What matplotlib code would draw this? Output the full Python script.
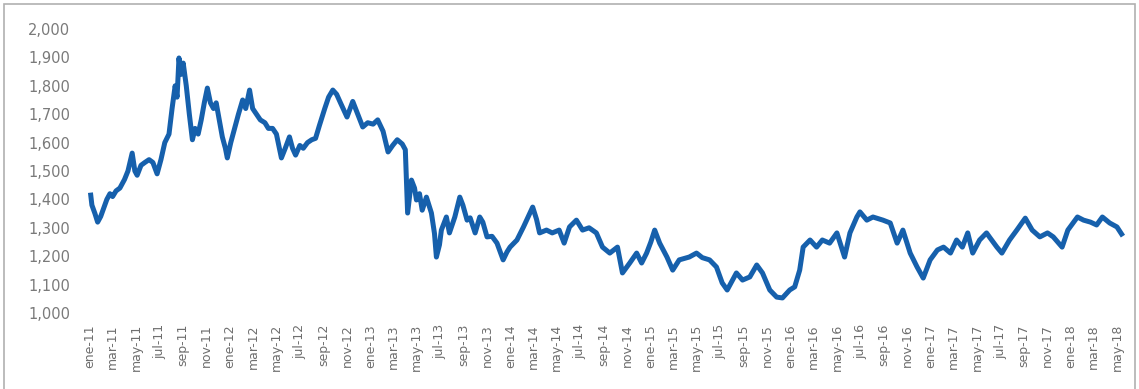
import matplotlib
matplotlib.use("Agg")
import matplotlib.pyplot as plt
import matplotlib.dates as mdates
import matplotlib.patches as patches
import matplotlib.ticker as mticker
import pandas as pd

# precio del oro (USD/oz), lecturas aproximadas
fechas = [
    "2011-01-03", "2011-01-06", "2011-01-14", "2011-01-21", "2011-01-29", "2011-02-06",
    "2011-02-14", "2011-02-22", "2011-03-01", "2011-03-10", "2011-03-20", "2011-04-01",
    "2011-04-10", "2011-04-21", "2011-04-28", "2011-05-04", "2011-05-14", "2011-05-24",
    "2011-06-04", "2011-06-14", "2011-06-25", "2011-07-05", "2011-07-15", "2011-07-26",
    "2011-08-03", "2011-08-11", "2011-08-16", "2011-08-21", "2011-08-26", "2011-09-01",
    "2011-09-09", "2011-09-17", "2011-09-25", "2011-10-02", "2011-10-10", "2011-10-18",
    "2011-10-26", "2011-11-03", "2011-11-11", "2011-11-19", "2011-11-26", "2011-12-04",
    "2011-12-12", "2011-12-20", "2011-12-25",
    "2012-01-03", "2012-01-13", "2012-01-23", "2012-02-03", "2012-02-11", "2012-02-21",
    "2012-02-29", "2012-03-10", "2012-03-20", "2012-04-01", "2012-04-10", "2012-04-21",
    "2012-05-01", "2012-05-14", "2012-05-24", "2012-06-04", "2012-06-12", "2012-06-20",
    "2012-07-01", "2012-07-10", "2012-07-21", "2012-08-01", "2012-08-11", "2012-08-21",
    "2012-09-04", "2012-09-14", "2012-09-25", "2012-10-05", "2012-10-15", "2012-11-01",
    "2012-11-16", "2012-11-29", "2012-12-12", "2012-12-25",
    "2013-01-08", "2013-01-20", "2013-02-03", "2013-02-16", "2013-02-28", "2013-03-12",
    "2013-03-25", "2013-04-02", "2013-04-08", "2013-04-13", "2013-04-18", "2013-04-26",
    "2013-05-01", "2013-05-09", "2013-05-16", "2013-05-27", "2013-06-09", "2013-06-17",
    "2013-06-22", "2013-06-30", "2013-07-05", "2013-07-18", "2013-07-26", "2013-08-09",
    "2013-08-22", "2013-08-30", "2013-09-10", "2013-09-18", "2013-10-01", "2013-10-13",
    "2013-10-21", "2013-11-01", "2013-11-14", "2013-11-27", "2013-12-13", "2013-12-23",
    "2013-12-31",
    "2014-01-18", "2014-02-04", "2014-02-16", "2014-02-28", "2014-03-10", "2014-03-18",
    "2014-04-05", "2014-04-20", "2014-05-08", "2014-05-21", "2014-06-04", "2014-06-22",
    "2014-07-08", "2014-07-25", "2014-08-13", "2014-08-29", "2014-09-17", "2014-10-07",
    "2014-10-20", "2014-11-08", "2014-11-26", "2014-12-09", "2014-12-22",
    "2015-01-02", "2015-01-12", "2015-01-25", "2015-02-13", "2015-02-28", "2015-03-17",
    "2015-04-12", "2015-05-01", "2015-05-16", "2015-06-04", "2015-06-22", "2015-07-07",
    "2015-07-20", "2015-08-13", "2015-08-29", "2015-09-17", "2015-10-05", "2015-10-20",
    "2015-11-08", "2015-11-26", "2015-12-11", "2015-12-30",
    "2016-01-12", "2016-01-25", "2016-02-03", "2016-02-21", "2016-03-09", "2016-03-24",
    "2016-04-12", "2016-05-01", "2016-05-21", "2016-06-04", "2016-06-22", "2016-06-30",
    "2016-07-18", "2016-08-03", "2016-08-29", "2016-09-17", "2016-10-05", "2016-10-20",
    "2016-11-08", "2016-11-26", "2016-12-12", "2016-12-30",
    "2017-01-18", "2017-02-03", "2017-02-21", "2017-03-09", "2017-03-24", "2017-04-07",
    "2017-04-20", "2017-05-08", "2017-05-26", "2017-06-04", "2017-06-22", "2017-07-05",
    "2017-07-25", "2017-08-13", "2017-09-04", "2017-09-22", "2017-10-12", "2017-11-01",
    "2017-11-16", "2017-12-09", "2017-12-24",
    "2018-01-18", "2018-02-03", "2018-02-21", "2018-03-09", "2018-03-24", "2018-04-12",
    "2018-05-01", "2018-05-13",
]
precio = [
    1415, 1380, 1350, 1320, 1340, 1370,
    1400, 1420, 1410, 1430, 1440, 1470,
    1500, 1563, 1500, 1485, 1520, 1530,
    1540, 1530, 1490, 1540, 1600, 1630,
    1720, 1800, 1760, 1898, 1840, 1880,
    1800, 1700, 1610, 1650, 1630, 1680,
    1740, 1792, 1740, 1720, 1740, 1680,
    1620, 1580, 1546,
    1600, 1650, 1700, 1750, 1720, 1785,
    1720, 1700, 1680, 1670, 1650, 1650,
    1630, 1546, 1580, 1620, 1580, 1556,
    1590, 1580, 1600, 1610, 1615, 1660,
    1720, 1760, 1785, 1770, 1740, 1690,
    1745, 1700, 1655, 1670,
    1665, 1680, 1640, 1567, 1590, 1610,
    1595, 1575, 1352, 1410, 1468, 1440,
    1398, 1420, 1362, 1408, 1352, 1280,
    1197, 1240, 1292, 1338, 1282, 1338,
    1408, 1380, 1327, 1335, 1282, 1338,
    1320, 1268, 1270, 1246, 1187, 1215,
    1232,
    1257, 1303, 1338, 1373, 1330, 1282,
    1292, 1282, 1292, 1246, 1303, 1327,
    1292, 1300, 1282, 1232, 1211, 1232,
    1141, 1176, 1211, 1176, 1211,
    1250, 1292, 1246, 1197, 1151, 1187,
    1197, 1211, 1195, 1187, 1162, 1106,
    1081, 1141, 1116, 1127, 1169, 1141,
    1081, 1056, 1053, 1081,
    1092, 1151, 1232, 1257, 1232, 1257,
    1246, 1282, 1197, 1282, 1338, 1356,
    1327, 1338, 1327, 1317, 1246, 1292,
    1211, 1162, 1123, 1187,
    1222, 1232, 1211, 1257, 1232, 1282,
    1211, 1257, 1282, 1265, 1232, 1211,
    1257, 1292, 1334, 1292, 1268, 1282,
    1268, 1232, 1292,
    1338, 1327, 1320, 1310, 1338, 1317,
    1303, 1278,
]

meses = ["ene", "feb", "mar", "abr", "may", "jun",
         "jul", "ago", "sep", "oct", "nov", "dic"]

fechas = pd.to_datetime(fechas)

fig = plt.figure(figsize=(11.39, 3.89), dpi=100)
ax = fig.add_axes([80 / 1139, 76 / 389, 1050 / 1139, 284 / 389])

ax.plot(fechas, precio, color="#1660ac", linewidth=3.6, solid_joinstyle="round")

ax.set_ylim(1000, 2000)
ax.set_xlim(pd.Timestamp("2010-12-06"), pd.Timestamp("2018-06-04"))
ax.yaxis.set_major_locator(mticker.MultipleLocator(100))
ax.yaxis.set_major_formatter(mticker.FuncFormatter(lambda v, p: f"{v:,.0f}"))

ax.xaxis.set_major_locator(mdates.MonthLocator(bymonth=[1, 3, 5, 7, 9, 11]))
ax.xaxis.set_major_formatter(
    mticker.FuncFormatter(lambda v, p: "%s-%s" % (meses[mdates.num2date(v).month - 1],
                                                 mdates.num2date(v).strftime("%y"))))

for s in ax.spines.values():
    s.set_visible(False)
ax.tick_params(axis="y", length=0, pad=7, labelsize=10.5, labelcolor="#7a7a7a")
ax.tick_params(axis="x", length=0, pad=8, labelsize=9, labelcolor="#6e6e6e",
               labelrotation=90)

# marco gris alrededor de la figura
marco = patches.Rectangle((4 / 1139, -0.01), 1131 / 1139, (389 - 4) / 389 + 0.01,
                          transform=fig.transFigure, fill=False,
                          edgecolor="#b0b0b0", linewidth=1.2)
fig.patches.append(marco)

fig.savefig("out.png", dpi=100)
